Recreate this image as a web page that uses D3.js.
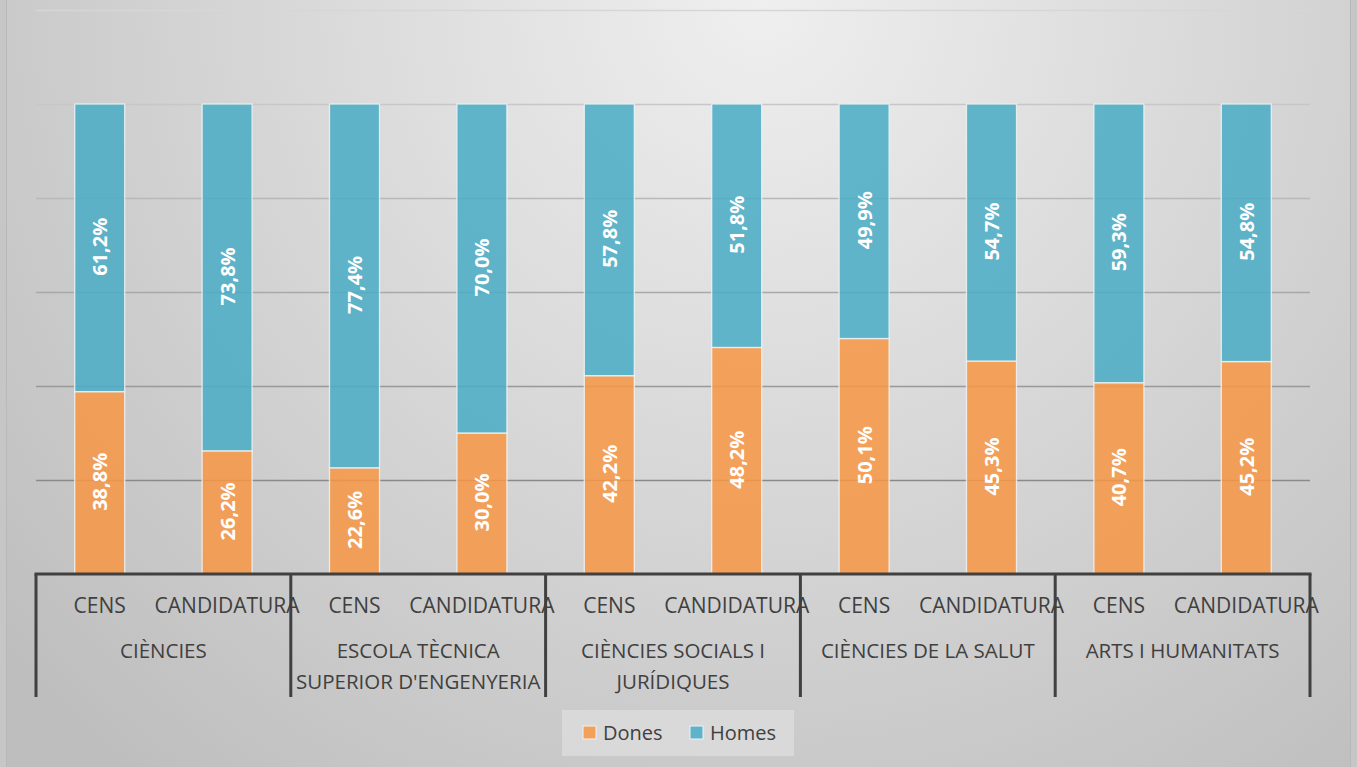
<!DOCTYPE html>
<html><head><meta charset="utf-8">
<script src="https://cdn.jsdelivr.net/npm/d3@7"></script>
<style>html,body{margin:0;padding:0;background:#c9c9c9;}svg{display:block;}</style>
</head><body>
<svg id="chart" width="1357" height="767"></svg>
<script>
const groups = ["CIÈNCIES", "ESCOLA TÈCNICA SUPERIOR D'ENGENYERIA", "CIÈNCIES SOCIALS I JURÍDIQUES", "CIÈNCIES DE LA SALUT", "ARTS I HUMANITATS"];
const groupLines = [["CIÈNCIES"], ["ESCOLA TÈCNICA", "SUPERIOR D'ENGENYERIA"], ["CIÈNCIES SOCIALS I", "JURÍDIQUES"], ["CIÈNCIES DE LA SALUT"], ["ARTS I HUMANITATS"]];
const subcats = ["CENS", "CANDIDATURA"];
const dones = [38.8, 26.2, 22.6, 30.0, 42.2, 48.2, 50.1, 45.3, 40.7, 45.2];
const homes = [61.2, 73.8, 77.4, 70.0, 57.8, 51.8, 49.9, 54.7, 59.3, 54.8];
const seriesNames = ["Dones", "Homes"];
const gridTicks = [20, 40, 60, 80, 100, 120];

const W = 1357, H = 767;
const plot = {left: 36, right: 1310, top: 10, bottom: 574};
const svg = d3.select("#chart");
const defs = svg.append("defs");
const rg = defs.append("radialGradient").attr("id", "bg")
  .attr("gradientUnits", "userSpaceOnUse").attr("cx", 760).attr("cy", 0).attr("r", 1000);
rg.append("stop").attr("offset", "0%").attr("stop-color", "#efefef");
rg.append("stop").attr("offset", "100%").attr("stop-color", "#bebebe");

svg.append("rect").attr("x", 0).attr("y", 0).attr("width", W).attr("height", H).attr("fill", "#c6c6c6");
svg.append("rect").attr("x", 6.5).attr("y", -2).attr("width", 1344).attr("height", H + 4)
  .attr("fill", "url(#bg)").attr("stroke", "#b8b8b8").attr("stroke-width", 1);

const rows = [];
groups.forEach((g, gi) => subcats.forEach((s, si) => rows.push({key: gi + "-" + si, g: gi, s: si})));
rows.forEach((r, i) => { r.Dones = dones[i]; r.Homes = homes[i]; });

const x = d3.scaleBand().domain(rows.map(r => r.key)).range([plot.left, plot.right]).paddingInner(0.6075).paddingOuter(0.30375);
const y = d3.scaleLinear().domain([0, 120]).range([plot.bottom, plot.top]);
const color = d3.scaleOrdinal().domain(seriesNames).range(["#F79646", "#4BACC6"]);

const gridColor = d3.scaleLinear().domain([20, 120]).range(["#8a8a8a", "#d6d6d6"]);
const grid = svg.append("g").attr("transform", `translate(${plot.left},0)`)
  .call(d3.axisLeft(y).tickValues(gridTicks).tickSize(-(plot.right - plot.left)).tickFormat(""));
grid.select(".domain").remove();
grid.selectAll(".tick line").attr("stroke", d => gridColor(d)).attr("stroke-width", 1.6);

const stack = d3.stack().keys(seriesNames);
const stacked = stack(rows);
const fmt = v => v.toFixed(1).replace(".", ",") + "%";
svg.append("g").selectAll("g").data(stacked).join("g")
  .attr("fill", d => color(d.key)).attr("fill-opacity", 0.86)
  .selectAll("rect").data(d => d).join("rect")
  .attr("x", d => x(d.data.key)).attr("width", x.bandwidth())
  .attr("y", d => y(d[1])).attr("height", d => y(d[0]) - y(d[1]))
  .attr("stroke", "#eef3f5").attr("stroke-opacity", 0.85).attr("stroke-width", 1.3);

const lab = svg.append("g");
stacked.forEach(s => {
  s.forEach(d => {
    const cx = x(d.data.key) + x.bandwidth() / 2;
    const cy = (y(d[0]) + y(d[1])) / 2;
    lab.append("text").attr("transform", `translate(${cx + 7.5},${cy - 1}) rotate(-90)`)
      .attr("text-anchor", "middle").attr("fill", "#ffffff")
      .attr("font-family", "'Open Sans', sans-serif").attr("font-weight", "bold").attr("font-size", 20)
      .text(fmt(d.data[s.key]));
  });
});

const ax = svg.append("g");
ax.append("line").attr("x1", plot.left - 1.5).attr("x2", plot.right + 1.5).attr("y1", plot.bottom).attr("y2", plot.bottom)
  .attr("stroke", "#404040").attr("stroke-width", 3);
const groupW = (plot.right - plot.left) / groups.length;
d3.range(groups.length + 1).forEach(i => {
  const xx = plot.left + i * groupW;
  ax.append("line").attr("x1", xx).attr("x2", xx).attr("y1", plot.bottom).attr("y2", 697)
    .attr("stroke", "#404040").attr("stroke-width", 3);
});
rows.forEach(r => {
  ax.append("text").attr("x", x(r.key) + x.bandwidth() / 2).attr("y", 613)
    .attr("text-anchor", "middle").attr("fill", "#404040")
    .attr("font-family", "'Open Sans', sans-serif").attr("font-size", 21)
    .text(subcats[r.s]);
});
groupLines.forEach((lines, gi) => {
  const cx = plot.left + (gi + 0.5) * groupW;
  lines.forEach((t, li) => {
    ax.append("text").attr("x", cx).attr("y", 658 + li * 31)
      .attr("text-anchor", "middle").attr("fill", "#404040")
      .attr("font-family", "'Open Sans', sans-serif").attr("font-size", 20.5)
      .text(t);
  });
});

const lg = svg.append("g");
lg.append("rect").attr("x", 562).attr("y", 710).attr("width", 232).attr("height", 46).attr("fill", "#dcdcdc").attr("fill-opacity", 0.8);
const lx = [583, 690];
seriesNames.forEach((n, i) => {
  lg.append("rect").attr("x", lx[i]).attr("y", 726).attr("width", 13).attr("height", 13)
    .attr("fill", color(n)).attr("fill-opacity", 0.86).attr("stroke", "#eef3f5").attr("stroke-width", 1);
  lg.append("text").attr("x", lx[i] + 20).attr("y", 740).attr("fill", "#404040")
    .attr("font-family", "'Open Sans', sans-serif").attr("font-size", 20).text(n);
});
</script>
</body></html>
